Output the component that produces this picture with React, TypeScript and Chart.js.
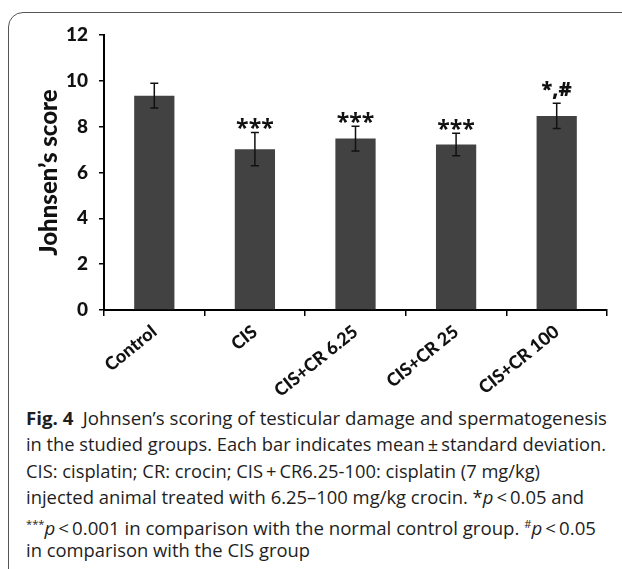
import React, { useEffect, useLayoutEffect, useRef } from "react";
import { Chart, registerables } from "chart.js";

Chart.register(...registerables);

const categories = ["Control", "CIS", "CIS+CR 6.25", "CIS+CR 25", "CIS+CR 100"];
const means = [9.35, 7.02, 7.48, 7.22, 8.47];
const sds = [0.54, 0.73, 0.54, 0.49, 0.55];
const marks = ["", "***", "***", "***", "*,#"];
const yTicks = [0, 2, 4, 6, 8, 10, 12];

const errorBarPlugin = {
  id: "errorBars",
  afterDatasetsDraw(chart: any) {
    const ctx = chart.ctx;
    const meta = chart.getDatasetMeta(0);
    const y = chart.scales.y;
    ctx.save();
    meta.data.forEach((bar: any, i: number) => {
      const x = bar.x;
      const top = y.getPixelForValue(means[i] + sds[i]);
      const bot = y.getPixelForValue(means[i] - sds[i]);
      ctx.strokeStyle = "#111";
      ctx.lineWidth = 1.5;
      ctx.beginPath();
      ctx.moveTo(x, top);
      ctx.lineTo(x, bot);
      ctx.moveTo(x - 4, top);
      ctx.lineTo(x + 4, top);
      ctx.moveTo(x - 4, bot);
      ctx.lineTo(x + 4, bot);
      ctx.stroke();
      const m = marks[i];
      if (m) {
        ctx.fillStyle = "#111";
        ctx.textAlign = "center";
        ctx.textBaseline = "alphabetic";
        if (m.includes("#")) {
          ctx.font = "800 20px 'Open Sans'";
          ctx.fillText(m, x, top - 7);
        } else {
          ctx.font = "bold 23px 'Open Sans'";
          const d = ctx.measureText(m).actualBoundingBoxDescent;
          ctx.fillText(m, x, top - 3 - d);
        }
      }
    });
    ctx.restore();
  },
};

const captionLines: React.ReactNode[] = [
  <>
    <b>Fig.&nbsp;4</b>&ensp;Johnsen’s scoring of testicular damage and spermatogenesis
  </>,
  <>in the studied groups. Each bar indicates mean&thinsp;±&thinsp;standard deviation.</>,
  <>CIS: cisplatin; CR: crocin; CIS&thinsp;+&thinsp;CR6.25-100: cisplatin (7 mg/kg)</>,
  <>
    injected animal treated with 6.25–100 mg/kg crocin. *<i>p</i>&thinsp;&lt;&thinsp;0.05 and
  </>,
  <>
    <sup style={{ fontSize: "0.6em" }}>***</sup>
    <i>p</i>&thinsp;&lt;&thinsp;0.001 in comparison with the normal control group.{" "}
    <sup style={{ fontSize: "0.6em" }}>#</sup>
    <i>p</i>&thinsp;&lt;&thinsp;0.05
  </>,
  <>in comparison with the CIS group</>,
];
const captionWidths = [581, 580, 514, 558, 570, 284];

function FitLine({ top, width, children }: { top: number; width: number; children: React.ReactNode }) {
  const ref = useRef<HTMLDivElement>(null);
  useLayoutEffect(() => {
    const fit = () => {
      const el = ref.current;
      if (!el) return;
      el.style.transform = "none";
      const w = el.getBoundingClientRect().width;
      if (w > 0) el.style.transform = `scaleX(${width / w})`;
    };
    fit();
    (document as any).fonts?.ready?.then(fit);
  }, [width]);
  return (
    <div
      ref={ref}
      style={{
        position: "absolute",
        left: 26,
        top,
        whiteSpace: "nowrap",
        lineHeight: "26.4px",
        transformOrigin: "left top",
        fontFamily: "'Open Sans', sans-serif",
        fontSize: 18.5,
        color: "#1e1e1e",
      }}
    >
      {children}
    </div>
  );
}

export default function App() {
  const canvasRef = useRef<HTMLCanvasElement>(null);

  useEffect(() => {
    const canvas = canvasRef.current;
    if (!canvas) return;
    const chart = new Chart(canvas, {
      type: "bar",
      data: {
        labels: categories,
        datasets: [
          {
            data: means,
            backgroundColor: "#424242",
            borderWidth: 0,
            barPercentage: 0.4,
            categoryPercentage: 1,
          },
        ],
      },
      options: {
        responsive: false,
        animation: false,
        layout: { autoPadding: false, padding: { left: 10, top: 35, right: 15, bottom: 0 } },
        plugins: { legend: { display: false }, tooltip: { enabled: false } },
        scales: {
          x: {
            afterFit: (s: any) => {
              s.height = 90;
            },
            grid: {
              display: true,
              drawOnChartArea: false,
              drawTicks: true,
              tickLength: 6,
              color: "#000",
              lineWidth: 1.5,
              offset: true,
            },
            border: { display: true, color: "#000", width: 2 },
            ticks: {
              minRotation: 39,
              maxRotation: 39,
              padding: 5,
              color: "#111",
              font: { family: "Lato", weight: 900, size: 18 },
            },
          },
          y: {
            min: 0,
            max: 12,
            afterFit: (s: any) => {
              s.width = 94;
            },
            afterBuildTicks: (s: any) => {
              s.ticks = yTicks.map((v) => ({ value: v }));
            },
            grid: {
              display: true,
              drawOnChartArea: false,
              drawTicks: true,
              tickLength: 5,
              color: "#000",
              lineWidth: 1.5,
            },
            border: { display: true, color: "#000", width: 2 },
            ticks: {
              padding: 11,
              color: "#111",
              font: { family: "Lato", weight: 900, size: 19 },
            },
            title: {
              display: true,
              text: "Johnsen’s score",
              color: "#111",
              padding: { top: 25, bottom: 0 },
              font: { family: "Lato", weight: 900, size: 24 },
            },
          },
        },
      } as any,
      plugins: [errorBarPlugin],
    });
    return () => chart.destroy();
  }, []);

  return (
    <div
      style={{
        position: "fixed",
        left: 0,
        top: 0,
        width: 622,
        height: 569,
        overflow: "hidden",
        background: "#fff",
      }}
    >
      <div
        style={{
          position: "absolute",
          left: 8,
          top: 12,
          width: 800,
          height: 800,
          border: "1.5px solid #555",
          borderTopLeftRadius: 15,
        }}
      />
      <canvas
        ref={canvasRef}
        width={622}
        height={400}
        style={{ position: "absolute", left: 0, top: 0, width: 622, height: 400 }}
      />
      {captionLines.map((line, i) => (
        <FitLine key={i} top={405 + i * 26.4} width={captionWidths[i]}>
          {line}
        </FitLine>
      ))}
    </div>
  );
}
